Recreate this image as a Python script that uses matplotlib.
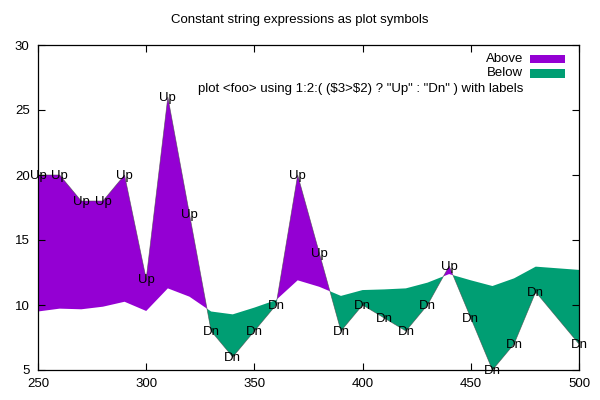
import matplotlib
matplotlib.use("Agg")
import matplotlib.pyplot as plt
from matplotlib.patches import Rectangle
import numpy as np

plt.rcParams["font.family"] = ["Liberation Sans", "DejaVu Sans"]

# data (x, label curve, other curve)
xs = [250, 260, 270, 280, 290, 300, 310, 320, 330, 340, 350, 360, 370,
      380, 390, 400, 410, 420, 430, 440, 450, 460, 470, 480, 500]
col2 = [20, 20, 18, 18, 20, 12, 26, 17, 8, 6, 8, 10, 20,
        14, 8, 10, 9, 8, 10, 13, 9, 5, 7, 11, 7]
col3 = [9.5, 9.72, 9.67, 9.87, 10.25, 9.54, 11.28, 10.64, 9.5, 9.28, 9.8, 10.38, 11.9,
        11.4, 10.7, 11.15, 11.2, 11.28, 11.72, 12.38, 11.9, 11.46, 12.05, 12.95, 12.7]

title = "Constant string expressions as plot symbols"
key_labels = ["Above", "Below",
              'plot <foo> using 1:2:( ($3>$2) ? "Up" : "Dn" ) with labels']

PURPLE = "#9400d3"
GREEN = "#009e73"
FS = 9.5

x = np.asarray(xs, dtype=float)
a = np.asarray(col2, dtype=float)
b = np.asarray(col3, dtype=float)

fig = plt.figure(figsize=(6, 4), dpi=100)
ax = fig.add_axes([38 / 600, 30 / 400, 541 / 600, 325 / 400])

ax.fill_between(x, a, b, where=a >= b, interpolate=True, color=PURPLE, lw=0)
ax.fill_between(x, a, b, where=a <= b, interpolate=True, color=GREEN, lw=0)
ax.plot(x, a, color="#444444", lw=0.5, alpha=0.7)

# gnuplot centres the capitals on the point, so sit the baseline half a cap below
for xi, ai, bi in zip(x, a, b):
    lab = "Up" if ai > bi else "Dn"
    ax.annotate(lab, (xi, ai), xytext=(0, -3.2), textcoords="offset points",
                ha="center", va="baseline", fontsize=FS, annotation_clip=False)

ax.set_xlim(250, 500)
ax.set_ylim(5, 30)
ax.set_xticks(range(250, 501, 50))
ax.set_yticks(range(5, 31, 5))
ax.tick_params(direction="in", length=5, width=0.8, top=True, right=True,
               labelsize=FS, pad=6)
for sp in ax.spines.values():
    sp.set_linewidth(0.9)

fig.text(0.5, 1 - 20 / 400, title, ha="center", va="center", fontsize=FS)

# key, drawn by hand so the text-only entry lines up like gnuplot's
ys = [59, 73.5, 89]
for lab, yp in zip(key_labels, ys):
    fig.text(523 / 600, 1 - yp / 400, lab, ha="right", va="center", fontsize=FS,
             parse_math=False)
for col, yp in zip([PURPLE, GREEN], ys[:2]):
    fig.patches.append(Rectangle((530 / 600, 1 - (yp + 4.3) / 400), 35 / 600, 8.6 / 400,
                                 transform=fig.transFigure, color=col, lw=0))

fig.savefig("out.png", dpi=100)
